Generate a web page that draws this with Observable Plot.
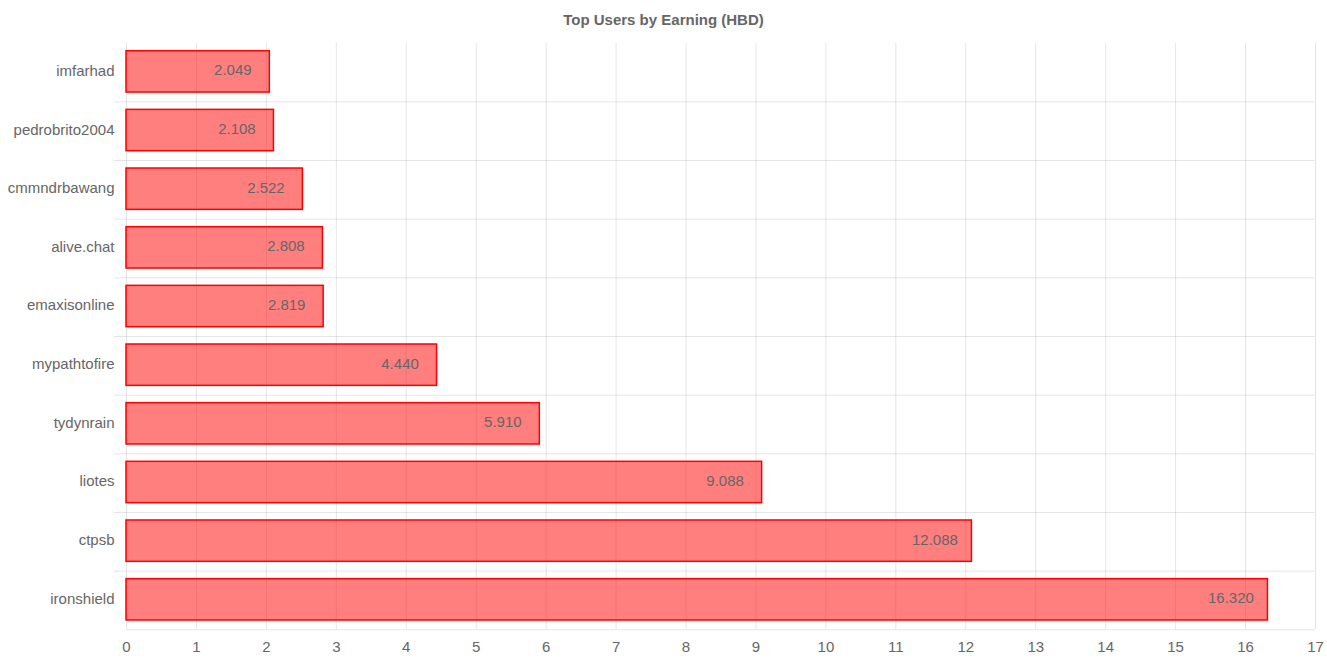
<!DOCTYPE html>
<html><head><meta charset="utf-8">
<script src="https://cdn.jsdelivr.net/npm/d3@7"></script>
<script src="https://cdn.jsdelivr.net/npm/@observablehq/plot@0.6"></script>
<style>
body{margin:0;background:#fff;font-family:"Liberation Sans",Arial,sans-serif;}
#title{height:40px;line-height:40px;text-align:center;font-weight:bold;font-size:15px;color:#666;}
#chart svg{display:block;}
</style></head><body>
<div id="title">Top Users by Earning (HBD)</div>
<div id="chart"></div>
<script>
const users = ["imfarhad","pedrobrito2004","cmmndrbawang","alive.chat","emaxisonline","mypathtofire","tydynrain","liotes","ctpsb","ironshield"];
const earnings = [2.049, 2.108, 2.522, 2.808, 2.819, 4.440, 5.910, 9.088, 12.088, 16.320];
const xTicks = [0,1,2,3,4,5,6,7,8,9,10,11,12,13,14,15,16,17];

const data = users.map((u, i) => ({user: u, value: earnings[i]}));
const H = 623, mT = 2.7, mB = 33.7;
const band = (H - mT - mB) / users.length;
const grid = "rgba(0,0,0,0.1)";

const chart = Plot.plot({
  width: 1327, height: H,
  marginTop: mT, marginBottom: mB, marginLeft: 126, marginRight: 12,
  style: {fontSize: "15px", fontFamily: "'Liberation Sans', Arial, sans-serif", color: "#666", background: "#fff"},
  x: {domain: [0, 17]},
  y: {domain: users, padding: 0, round: false},
  marks: [
    Plot.ruleX(xTicks, {stroke: grid}),
    Plot.ruleY(users.slice(0, -1), {y: d => d, dy: band / 2, stroke: grid, insetLeft: -12}),
    Plot.ruleY(users.slice(-1), {y: d => d, dy: band / 2, stroke: grid}),
    Plot.barX(data, {x: "value", y: "user", fill: "rgba(255,0,0,0.5)", stroke: "#ff0000", strokeWidth: 1.5, insetTop: 8, insetBottom: 9.3}),
    Plot.text(data, {x: "value", y: "user", text: d => d.value.toFixed(3), dx: -37, dy: -2, fill: "#666", fontSize: 15}),
    Plot.axisX({ticks: xTicks, tickSize: 0, tickPadding: 12, label: null, fill: "#666"}),
    Plot.axisY({tickSize: 0, tickPadding: 12, dy: -1.5, label: null, fill: "#666"})
  ]
});
document.getElementById("chart").appendChild(chart);
</script>
</body></html>
